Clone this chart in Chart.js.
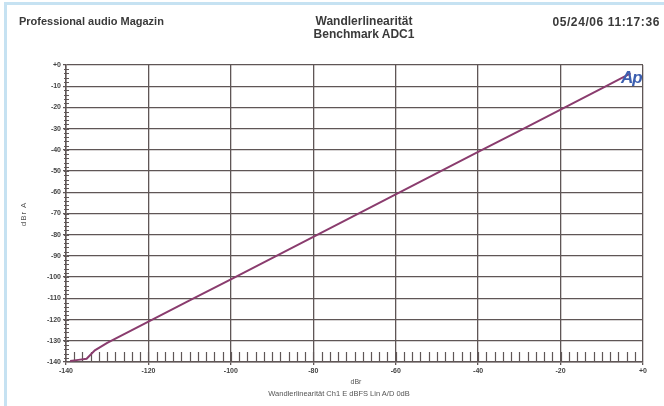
<!DOCTYPE html>
<html>
<head>
<meta charset="utf-8">
<script src="https://cdn.jsdelivr.net/npm/chart.js@4.4.0/dist/chart.umd.min.js"></script>
<style>
  html, body { margin: 0; padding: 0; background: #fff; }
  #wrap { position: relative; width: 664px; height: 406px; overflow: hidden; font-family: "Liberation Sans", Arial, sans-serif; color: #333; }
  #frameTop { position: absolute; left: 4px; top: 2px; width: 660px; height: 3px; background: #c6e2f2; }
  #frameLeft { position: absolute; left: 4px; top: 2px; width: 3px; height: 404px; background: #c6e2f2; }
  canvas { position: absolute; left: 0; top: 0; }
  .txt { position: absolute; font-size: 11px; font-weight: bold; color: #3a3a3a; white-space: nowrap; }
  .small { font-size: 7px; font-weight: normal; color: #555; }
  #logo { position: absolute; left: 621px; top: 68px; font: italic bold 17px "Liberation Sans", Arial, sans-serif; color: #3c5fb0; letter-spacing: -1px; }
</style>
</head>
<body>
<div id="wrap">
  <canvas id="linChart" width="664" height="406"></canvas>
  <div id="frameTop"></div>
  <div id="frameLeft"></div>
  <div class="txt" style="left:19px; top:15px;">Professional audio Magazin</div>
  <div class="txt" style="left:364px; top:15px; transform:translateX(-50%); text-align:center; line-height:13px; font-size:12px;">Wandlerlinearität<br>Benchmark ADC1</div>
  <div class="txt" style="right:4px; top:15px; font-size:12px; letter-spacing:0.6px;">05/24/06 11:17:36</div>
  <div class="txt small" style="left:356px; top:378px; transform:translateX(-50%);">dBr</div>
  <div class="txt small" style="left:339px; top:389px; transform:translateX(-50%); font-size:7.5px;">Wandlerlinearität Ch1 E dBFS Lin A/D 0dB</div>
  <div class="txt small" style="left:23px; top:214px; transform:translate(-50%,-50%) rotate(-90deg); font-size:8px; letter-spacing:1px;">dBr A</div>
  <div id="logo">Ap</div>
</div>

<script>
const inputLevel = [-139, -137, -135, -133, -130, -120, -110, -100, -90, -80, -70, -60, -50, -40, -30, -20, -10, -3];
const outputLevel = [-139.5, -139, -138.5, -134.5, -131, -121, -111, -101, -91, -81, -71, -61, -51, -41, -31, -21, -11, -4];

// Achsen
const xTicks = [-140, -120, -100, -80, -60, -40, -20, 0];
const yTicks = [0, -10, -20, -30, -40, -50, -60, -70, -80, -90, -100, -110, -120, -130, -140];

const gridColor = "#5f5656";
const lineColor = "#8a3c6e";

// Kleine Teilstriche (alle 2 dB)
const minorTicks = {
  id: "minorTicks",
  beforeDatasetsDraw(chart) {
    const { ctx, chartArea, scales } = chart;
    ctx.save();
    ctx.strokeStyle = gridColor;
    ctx.lineWidth = 1.2;
    ctx.beginPath();
    for (let v = -138; v < 0; v += 2) {
      const x = Math.round(scales.x.getPixelForValue(v)) + 0.5;
      ctx.moveTo(x, chartArea.bottom);
      ctx.lineTo(x, chartArea.bottom - 10);
    }
    for (let v = -138; v < 0; v += 2) {
      const y = Math.round(scales.y.getPixelForValue(v)) + 0.5;
      ctx.moveTo(chartArea.left - 2, y);
      ctx.lineTo(chartArea.left + 3, y);
    }
    ctx.stroke();
    ctx.restore();
  },
};

const fmt = (v) => (v === 0 ? "+0" : String(v));

new Chart(document.getElementById("linChart"), {
  type: "line",
  data: {
    datasets: [
      {
        data: inputLevel.map((x, i) => ({ x: x, y: outputLevel[i] })),
        borderColor: lineColor,
        borderWidth: 2,
        pointRadius: 0,
        tension: 0,
        fill: false,
      },
    ],
  },
  options: {
    responsive: false,
    animation: false,
    layout: { padding: { top: 65, right: 21, left: 0, bottom: 0 } },
    plugins: { legend: { display: false }, tooltip: { enabled: false } },
    scales: {
      x: {
        type: "linear",
        min: -140,
        max: 0,
        afterBuildTicks: (s) => { s.ticks = xTicks.map((v) => ({ value: v })); },
        afterFit: (s) => { s.height = 44; },
        ticks: {
          callback: fmt,
          color: "#444",
          font: { size: 7, family: "Liberation Sans", weight: "bold" },
          padding: 2,
          maxRotation: 0,
        },
        grid: { color: gridColor, lineWidth: 1.3, tickLength: 3 },
        border: { color: gridColor, width: 1.5 },
      },
      y: {
        type: "linear",
        min: -140,
        max: 0,
        afterBuildTicks: (s) => { s.ticks = yTicks.map((v) => ({ value: v })); },
        afterFit: (s) => { s.width = 66; },
        ticks: {
          callback: fmt,
          color: "#444",
          font: { size: 7, family: "Liberation Sans", weight: "bold" },
          padding: 2,
        },
        grid: { color: gridColor, lineWidth: 1.3, tickLength: 3 },
        border: { color: gridColor, width: 1.5 },
      },
    },
  },
  plugins: [minorTicks],
});
</script>
</body>
</html>
